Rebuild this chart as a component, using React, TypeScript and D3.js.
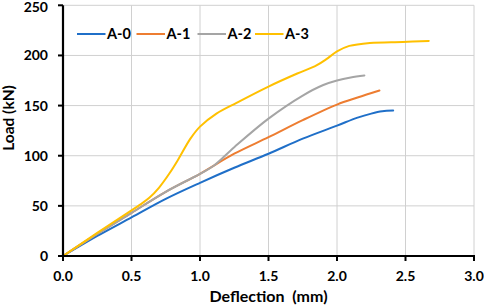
import React from "react";
import * as d3 from "d3";

const seriesNames = ["A-0", "A-1", "A-2", "A-3"];
const seriesColors = ["#1f6fc8", "#ed7d31", "#a5a5a5", "#ffc000"];

const a0: [number, number][] = [
  [0, 0], [0.25, 20], [0.5, 38.5], [0.75, 57], [1.0, 73], [1.25, 88], [1.5, 102],
  [1.75, 117], [2.0, 130], [2.15, 138], [2.25, 142], [2.33, 144.3], [2.41, 145],
];
const a1: [number, number][] = [
  [0, 0], [0.25, 22], [0.5, 43], [0.75, 64], [1.0, 82], [1.25, 102], [1.5, 118.5],
  [1.75, 135.5], [2.0, 151], [2.15, 158], [2.31, 165],
];
const a2: [number, number][] = [
  [0, 0], [0.25, 22], [0.5, 43], [0.75, 64], [1.0, 82], [1.1, 90], [1.25, 108.5],
  [1.5, 137], [1.75, 160], [1.9, 170.5], [2.0, 175], [2.1, 178], [2.2, 180],
];
const a3: [number, number][] = [
  [0, 0], [0.25, 23], [0.5, 45.5], [0.56, 51], [0.63, 58], [0.7, 68], [0.78, 83],
  [0.84, 96], [0.93, 117], [1.0, 129], [1.12, 142], [1.27, 153], [1.5, 169],
  [1.71, 182], [1.85, 190], [1.92, 196], [2.0, 204], [2.09, 209.5], [2.24, 212.5],
  [2.48, 213.5], [2.67, 214.5],
];
const seriesData = [a0, a1, a2, a3];

const xTicks = [0, 0.5, 1.0, 1.5, 2.0, 2.5, 3.0];
const yTicks = [0, 50, 100, 150, 200, 250];

const W = 484;
const H = 307;
const left = 63;
const right = 474;
const top = 5.3;
const bottom = 256;
const font = "Lato, 'Open Sans', sans-serif";

export default function App() {
  const x = d3.scaleLinear().domain([0, 3]).range([left, right]);
  const y = d3.scaleLinear().domain([0, 250]).range([bottom, top]);
  const line = d3
    .line<[number, number]>()
    .x((d) => x(d[0]))
    .y((d) => y(d[1]))
    .curve(d3.curveCatmullRom.alpha(0.5));

  const legendX = [77, 136.5, 197.5, 255];

  return (
    <svg
      width={W}
      height={H}
      style={{ position: "absolute", left: 0, top: 0, background: "#fff" }}
      fontFamily={font}
    >
      <rect x={0} y={0} width={W} height={H} fill="#fff" />
      {xTicks.map((t) => (
        <line key={"gx" + t} x1={x(t)} x2={x(t)} y1={top} y2={bottom} stroke="#d0d0d0" strokeWidth={1} />
      ))}
      {yTicks.map((t) => (
        <line key={"gy" + t} x1={left} x2={right} y1={y(t)} y2={y(t)} stroke="#d0d0d0" strokeWidth={1} />
      ))}
      {seriesData.map((s, i) => (
        <path key={"s" + i} d={line(s) || ""} fill="none" stroke={seriesColors[i]} strokeWidth={2} strokeLinejoin="round" strokeLinecap="round" />
      ))}
      <line x1={left} x2={left} y1={top} y2={bottom + 1} stroke="#000" strokeWidth={2.2} />
      <line x1={left - 1} x2={right + 1} y1={bottom} y2={bottom} stroke="#000" strokeWidth={2.2} />
      {xTicks.map((t) => (
        <g key={"tx" + t}>
          <line x1={x(t)} x2={x(t)} y1={bottom} y2={bottom + 5} stroke="#000" strokeWidth={2} />
          <text x={x(t)} y={281} textAnchor="middle" fontSize={14} fontWeight="bold" fill="#000">
            {t.toFixed(1)}
          </text>
        </g>
      ))}
      {yTicks.map((t) => (
        <g key={"ty" + t}>
          <line x1={left - 5} x2={left} y1={y(t)} y2={y(t)} stroke="#000" strokeWidth={2} />
          <text x={48} y={Math.max(y(t) + 5, 11.5)} textAnchor="end" fontSize={14} fontWeight="bold" fill="#000">
            {t}
          </text>
        </g>
      ))}
      <text x={268.5} y={302} textAnchor="middle" fontSize={16} fontWeight="bold" fill="#000" style={{ whiteSpace: "pre" }}>
        {"Deflection  (mm)"}
      </text>
      <text
        transform={`translate(14,118) rotate(-90)`}
        textAnchor="middle"
        fontSize={15.5}
        fontWeight="bold"
        fill="#000"
      >
        Load (kN)
      </text>
      {seriesNames.map((n, i) => (
        <g key={"lg" + n}>
          <line x1={legendX[i]} x2={legendX[i] + 28.5} y1={34} y2={34} stroke={seriesColors[i]} strokeWidth={2} />
          <text x={legendX[i] + 30} y={38.8} fontSize={14.5} fontWeight="bold" fill="#000">
            {n}
          </text>
        </g>
      ))}
    </svg>
  );
}
